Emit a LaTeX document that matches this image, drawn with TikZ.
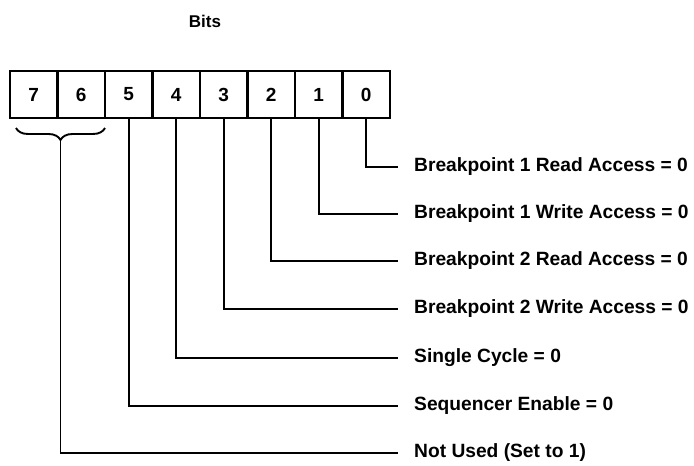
\documentclass[tikz,border=0pt]{standalone}
\usepackage{fontspec}
\setmainfont{Liberation Sans}
\usetikzlibrary{decorations.pathreplacing}
\begin{document}
\begin{tikzpicture}[x=1pt,y=-1pt,
  cell/.style={draw,line width=2.6pt,minimum width=47.5pt,minimum height=47pt,inner sep=0pt,font=\fontsize{19}{22}\selectfont\bfseries},
  lbl/.style={anchor=west,inner xsep=16pt,inner ysep=0pt,font=\fontsize{19.2}{22}\selectfont\bfseries},
  conn/.style={line width=1.7pt}]
\useasboundingbox (0,0) rectangle (694,466);
\node[font=\fontsize{17}{20}\selectfont\bfseries] (bits) at (205,21) {Bits};
\foreach \i/\b in {0/7,1/6,2/5,3/4,4/3,5/2,6/1,7/0}
  \node[cell] (b\b) at ({33.75+47.5*\i},94.5) {\b};
\node[lbl] (l0) at (398,167) {Breakpoint 1 Read Access = 0};
\node[lbl] (l1) at (398,214) {Breakpoint 1 Write Access = 0};
\node[lbl] (l2) at (398,261) {Breakpoint 2 Read Access = 0};
\node[lbl] (l3) at (398,309) {Breakpoint 2 Write Access = 0};
\node[lbl] (l4) at (398,358) {Single Cycle = 0};
\node[lbl] (l5) at (398,406) {Sequencer Enable = 0};
\node[lbl] (l6) at (398,453) {Not Used (Set to 1)};
\draw[line width=1.9pt,decorate,decoration={brace,mirror,amplitude=12pt,aspect=0.5}] (16,128) -- (105,128);
\coordinate (bt) at (60.5,141);
\draw[conn] (bt) |- (l6);
\foreach \b in {0,...,5}
  \draw[conn] (b\b) |- (l\b);
\end{tikzpicture}
\end{document}
